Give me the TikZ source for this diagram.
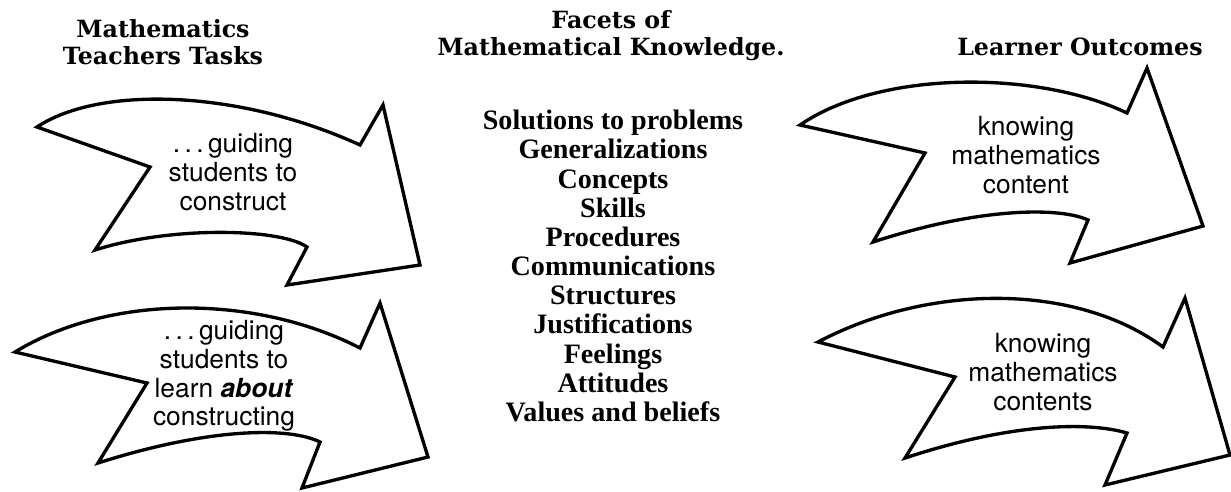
\documentclass[tikz,border=0pt]{standalone}
\usepackage{fontspec}
\setsansfont{TeX Gyre Heros}
\newfontfamily\headfont{DejaVu Serif}
\newfontfamily\listfont{Liberation Serif}
\usepackage{xcolor}
\usepackage{tikz}
\usetikzlibrary{positioning}

\begin{document}
\begin{tikzpicture}[x=0.02cm, y=-0.02cm,
    bentarrow/.style={draw, line width=1.9pt, line join=miter, fill=white},
    armtext/.style={font=\sffamily\fontsize{15}{16.4}\selectfont, align=center, inner sep=0pt},
    headtext/.style={font=\headfont\bfseries\fontsize{13.5}{15.4}\selectfont, align=center, inner sep=0pt},
    listtext/.style={font=\listfont\bfseries\fontsize{16}{16.6}\selectfont, align=center, inner sep=0pt}]
    \useasboundingbox (0,0) rectangle (1231,491);

    % column headings
    \node[headtext] (tasks) at (163,42) {Mathematics\\Teachers Tasks};
    \node[headtext] (facets) at (611,36) {Facets of\\Mathematical Knowledge.};
    \node[headtext] (outcomes) at (1080,47) {Learner Outcomes};

    % left arrows
    \draw[bentarrow] (37,127) .. controls (100,85) and (240,90) .. (360,145) -- (383,105) -- (420,265)
        -- (287,285) -- (307,247) .. controls (280,228) and (170,226) .. (95,250) -- (150,167) -- cycle;
    \draw[bentarrow] (15,352) .. controls (110,294) and (255,294) .. (360,348) -- (380,303) -- (428,457)
        -- (302,488) -- (320,442) .. controls (290,427) and (211,427) .. (98,463) -- (147,383) -- cycle;
    \node[armtext] (task1) at (233,172) {.\,.\,.\,guiding\\students to\\construct};
    \node[armtext] (task2) at (224,376) {.\,.\,.\,guiding\\students to\\learn \textbf{\textit{about}}\\constructing};

    % middle list
    \node[listtext] (facetlist) at (613,266) {Solutions to problems\\Generalizations\\Concepts\\Skills\\Procedures\\Communications\\Structures\\Justifications\\Feelings\\Attitudes\\Values and beliefs};

    % right arrows
    \draw[bentarrow] (800,125) .. controls (880,70) and (1037,70) .. (1127,113) -- (1147,68) -- (1203,226)
        -- (1070,263) -- (1088,220) .. controls (1060,207) and (980,207) .. (873,242) -- (925,153) -- cycle;
    \draw[bentarrow] (818,342) .. controls (930,283) and (1076,283) .. (1163,347) -- (1185,298) -- (1230,455)
        -- (1105,485) -- (1127,433) .. controls (1090,422) and (1014,422) .. (905,458) -- (955,377) -- cycle;
    \node[armtext] (outcome1) at (1026,155) {knowing\\mathematics\\content};
    \node[armtext] (outcome2) at (1043,372) {knowing\\mathematics\\contents};
\end{tikzpicture}
\end{document}
